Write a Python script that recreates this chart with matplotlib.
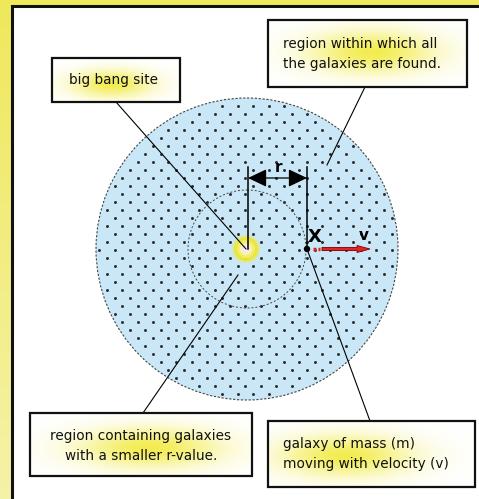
import numpy as np
import matplotlib
matplotlib.use("Agg")
import matplotlib.pyplot as plt
from matplotlib.patches import Rectangle, Circle, FancyArrow

# diagram texts
callout_texts = [
    "big bang site",
    "region within which all\nthe galaxies are found.",
    "region containing galaxies\nwith a smaller r-value.",
    "galaxy of mass (m)\nmoving with velocity (v)",
]
radius_label = "r"
galaxy_label = "X"
velocity_label = "v"

W, H = 479, 499
fig = plt.figure(figsize=(W / 100, H / 100), dpi=100)
ax = fig.add_axes([0, 0, 1, 1])
ax.set_xlim(0, W)
ax.set_ylim(H, 0)
ax.axis("off")

# yellow frame, a bit paler towards the bottom
grad = np.linspace(0, 1, 200)[:, None]
top = np.array([0.94, 0.91, 0.36])
bot = np.array([0.96, 0.95, 0.66])
bg = top[None, None, :] * (1 - grad[..., None]) + bot[None, None, :] * grad[..., None]
bg = np.repeat(bg, 2, axis=1)
ax.imshow(bg, extent=[0, W, H, 0], aspect="auto", zorder=0)

ax.add_patch(Rectangle((12, 6), 500, 520, facecolor="white",
                       edgecolor="#111111", lw=2.2, zorder=1))

# universe region
cx, cy = 247, 249
R_big, R_small = 151, 59
ax.add_patch(Circle((cx, cy), R_big, facecolor="#c9e7f7", edgecolor="none", zorder=2))
ax.add_patch(Circle((cx, cy), R_big, facecolor="none", edgecolor="#444444",
                    lw=0.8, ls=(0, (2, 1.5)), zorder=3))

# dotted texture (staggered lattice)
dx, dy = 15.4, 8.0
pts = []
for j, yy in enumerate(np.arange(cy - R_big, cy + R_big, dy)):
    off = 0 if j % 2 == 0 else dx / 2
    for xx in np.arange(cx - R_big - 20 + off, cx + R_big + 20, dx):
        if (xx - cx) ** 2 + (yy - cy) ** 2 < (R_big - 3) ** 2:
            pts.append((xx, yy))
pts = np.array(pts)
ax.scatter(pts[:, 0], pts[:, 1], s=4.5, color="#2a2a2a", lw=0, zorder=3)

ax.add_patch(Circle((cx, cy), R_small, facecolor="none", edgecolor="#444444",
                    lw=0.7, ls=(0, (2, 2)), zorder=4))

# big bang glow
for r, c, a in [(14, "#f0ea40", 0.45), (12, "#eee630", 0.9), (9, "#f3ee6a", 1.0),
                (6, "#f9f0c8", 1.0), (3.5, "#fbe3ea", 1.0), (1.8, "#ffffff", 1.0)]:
    ax.add_patch(Circle((cx - 1, cy), r, facecolor=c, edgecolor="none", alpha=a, zorder=5))

# r marker
gx = 307
ax.plot([cx + 1, cx + 1], [167, cy], color="black", lw=1.1, zorder=6)
ax.plot([gx, gx], [167, cy - 2], color="black", lw=1.1, zorder=6)
ax.annotate("", xy=(cx + 1, 178), xytext=(gx, 178),
            arrowprops=dict(arrowstyle="<|-|>,head_length=1.05,head_width=0.5",
                            color="black", lw=0.9, shrinkA=0, shrinkB=0,
                            mutation_scale=11), zorder=7)
ax.text((cx + gx) / 2 + 2, 168, radius_label, fontsize=11, fontweight="bold",
        ha="center", va="center", zorder=7)

# galaxy and velocity arrow
ax.add_patch(Circle((gx, cy), 3.2, facecolor="black", edgecolor="none", zorder=8))
ax.text(gx + 8, cy - 12, galaxy_label, fontsize=13, fontweight="bold",
        ha="center", va="center", zorder=8)
ax.plot([313, 316], [cy, cy], color="#e02020", lw=2.5, zorder=7, solid_capstyle="butt")
ax.plot([318, 320], [cy, cy], color="#e02020", lw=2.5, zorder=7, solid_capstyle="butt")
ax.add_patch(FancyArrow(322, cy, 48, 0, width=3.2, head_width=7, head_length=13,
                        length_includes_head=True, facecolor="#e02424",
                        edgecolor="#7a0000", lw=0.6, zorder=7))
ax.text(364, cy - 13, velocity_label, fontsize=11, fontweight="bold",
        ha="center", va="center", zorder=8)

# leader lines
leaders = [((116, 102), (cx - 1, cy)),
           ((365, 87), (327, 165)),
           ((143, 413), (238, 275)),
           ((370, 421), (gx, cy))]
for (x0, y0), (x1, y1) in leaders:
    ax.plot([x0, x1], [y0, y1], color="black", lw=0.8, zorder=6)

# callout boxes: (x0, y0, x1, y1), text anchor, alignment
boxes = [((52, 58, 180, 102), (114, 80), "center"),
         ((268, 20, 467, 87), (283, 54), "left"),
         ((30, 413, 252, 476), (141, 446), "center"),
         ((268, 421, 475, 487), (283, 454), "left")]
glow_centres = [(112, 84), (372, 52), (150, 448), (345, 456)]


def glow(x0, y0, x1, y1, gcx, gcy, z):
    nx, ny = 120, 60
    xs = np.linspace(x0, x1, nx)
    ys = np.linspace(y0, y1, ny)
    X, Y = np.meshgrid(xs, ys)
    sx, sy = (x1 - x0) * 0.22, (y1 - y0) * 0.22
    g = np.exp(-(((X - gcx) / sx) ** 2 + ((Y - gcy) / sy) ** 2) / 2)
    img = np.ones((ny, nx, 3))
    yel = np.array([0.94, 0.91, 0.15])
    img = img * (1 - g[..., None] * 0.8) + yel * g[..., None] * 0.8
    ax.imshow(img, extent=[x0, x1, y1, y0], aspect="auto", zorder=z,
              interpolation="bilinear")


for i, (((x0, y0, x1, y1), (tx, ty), ha), txt) in enumerate(zip(boxes, callout_texts)):
    gcx, gcy = glow_centres[i]
    glow(x0, y0, x1, y1, gcx, gcy, 9.5)
    ax.add_patch(Rectangle((x0, y0), x1 - x0, y1 - y0, facecolor="none",
                           edgecolor="#111111", lw=1.6, zorder=10))
    ax.text(tx, ty, txt, fontsize=9.8, ha=ha, va="center", multialignment=ha,
            linespacing=1.55, color="#111111", zorder=11)

ax.set_xlim(0, W)
ax.set_ylim(H, 0)
fig.savefig("out.png", dpi=100)
